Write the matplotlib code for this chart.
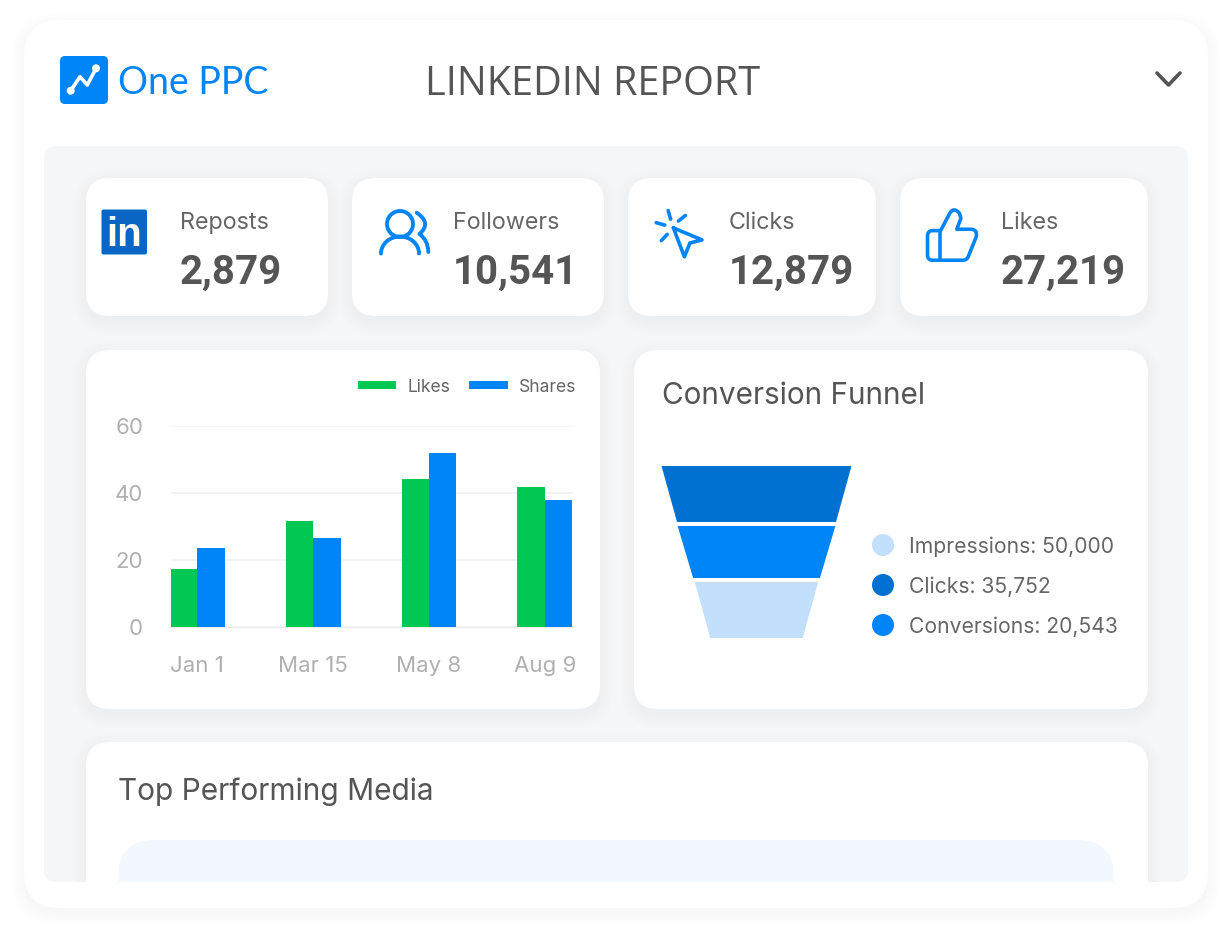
import matplotlib
matplotlib.use("Agg")
import matplotlib.pyplot as plt
from matplotlib.patches import Circle, FancyBboxPatch, PathPatch, Polygon, Rectangle, Arc
from matplotlib.path import Path

# chart values
dates = ["Jan 1", "Mar 15", "May 8", "Aug 9"]
likes = [17.2, 31.7, 44.0, 41.6]
shares = [23.4, 26.4, 52.0, 37.8]
y_ticks = [0, 20, 40, 60]

kpi_names = ["Reposts", "Followers", "Clicks", "Likes"]
kpi_values = ["2,879", "10,541", "12,879", "27,219"]

funnel_names = ["Impressions", "Clicks", "Conversions"]
funnel_values = [50000, 35752, 20543]

BLUE = "#0085f9"
DARK_BLUE = "#0071d1"
LIGHT_BLUE = "#c2e0fc"
GREEN = "#00c853"
TEXT = "#555555"
SOFT_TEXT = "#666666"
TICK = "#b0b0b0"
BODY_FONT = "Inter"


def rounded(ax, x0, y0, x1, y1, r, color, **kw):
    box = FancyBboxPatch((x0 + r, y0 + r), x1 - x0 - 2 * r, y1 - y0 - 2 * r,
                         boxstyle=f"round,pad={r},rounding_size={r}",
                         fc=color, ec="none", **kw)
    ax.add_patch(box)
    return box


def card(ax, x0, y0, x1, y1, r=24, clip=None):
    # soft drop shadow built from a few stacked boxes
    for grow in range(1, 14, 2):
        s = rounded(ax, x0 - grow, y0 - grow + 5, x1 + grow, y1 + grow + 5,
                    r + grow, "#20304a", alpha=0.005)
        if clip is not None:
            s.set_clip_path(clip)
    box = rounded(ax, x0, y0, x1, y1, r, "white")
    if clip is not None:
        box.set_clip_path(clip)
    return box


def stroke(ax, pts, color=BLUE, lw=2.6):
    xs, ys = zip(*pts)
    ax.plot(xs, ys, color=color, lw=lw, solid_capstyle="round",
            solid_joinstyle="round")


def curve(ax, verts, codes, lw=2.6):
    patch = PathPatch(Path(verts, codes), fc="none", ec=BLUE, lw=lw,
                      capstyle="round", joinstyle="round")
    ax.add_patch(patch)


def draw_logo(ax):
    rounded(ax, 60, 56, 108, 104, 5, BLUE)
    pts = [(70.7, 90.7), (80, 76.7), (87.3, 85), (96, 68.3)]
    stroke(ax, pts, "white", 2.6)
    ax.add_patch(Circle(pts[0], 4, fc="white", ec="none"))
    ax.add_patch(Circle(pts[-1], 4, fc="white", ec="none"))


def draw_linkedin(ax):
    rounded(ax, 101.5, 209.5, 147, 254.5, 2, "#0a66c2")
    ax.text(124.3, 234.5, "in", color="white", fontsize=29, fontweight="bold",
            family="Liberation Sans", ha="center", va="center")


def draw_followers(ax):
    ax.add_patch(Circle((400, 224), 13, fc="none", ec=BLUE, lw=2.8))
    ax.add_patch(Arc((400, 253.5), 38, 34, theta1=180, theta2=360, ec=BLUE, lw=2.8,
                     capstyle="round"))
    M, C = Path.MOVETO, Path.CURVE3
    curve(ax, [(416.7, 212.7), (432, 223), (419.5, 234), (428, 240), (428.3, 252)],
          [M, C, C, C, C], lw=2.8)


def draw_cursor(ax):
    arrow = [(673.4, 227.9), (702, 239.9), (689.9, 243), (684.4, 256.8), (673.4, 227.9)]
    stroke(ax, arrow)
    for ray in [[(668.2, 210.6), (670.6, 219.2)], [(685.4, 215.5), (678.5, 221)],
                [(656.2, 222.7), (664.8, 225.1)], [(661.3, 240.6), (667.2, 234.4)]]:
        stroke(ax, ray)


def draw_thumb(ax):
    M, L, C = Path.MOVETO, Path.LINETO, Path.CURVE3
    outline = [(930, 178), (958, 125), (970, 106), (986, 126), (990, 140), (978, 172),
               (1018, 172), (1040, 172), (1034, 195), (1012, 250), (1008, 262), (995, 262),
               (908, 262), (893, 262), (893, 247), (893, 192), (893, 176), (908, 176),
               (930, 176)]
    codes = [M, L, C, C, L, L, L, C, C, L, C, C, L, C, C, L, C, C, L]
    curve(ax, [(x / 2.904 + 620, y / 2.904 + 170) for x, y in outline], codes)
    stroke(ax, [(930 / 2.904 + 620, 178 / 2.904 + 170), (930 / 2.904 + 620, 262 / 2.904 + 170)])


def draw_bars(fig, canvas):
    # pixel box of the plot area: x 171-573, y 425.7-627
    ax = fig.add_axes([171 / 1232, 1 - 627 / 936, 402 / 1232, 201.3 / 936])
    ax.patch.set_alpha(0)
    width = 27.4 / 115.8
    pos = list(range(len(dates)))
    ax.bar([p - width / 2 for p in pos], likes, width, color=GREEN, label="Likes", zorder=3)
    ax.bar([p + width / 2 for p in pos], shares, width, color=BLUE, label="Shares", zorder=3)
    ax.set_xlim(-26.3 / 115.8, (573 - 197.3) / 115.8)
    ax.set_ylim(0, 60)
    ax.set_yticks(y_ticks)
    ax.set_xticks(pos)
    ax.set_xticklabels(dates)
    ax.tick_params(length=0, labelcolor=TICK, labelsize=16)
    ax.tick_params(axis="x", pad=21)
    ax.tick_params(axis="y", pad=20)
    ax.grid(axis="y", color="#f1f1f1", lw=1.2, zorder=0)
    for side in ["top", "left", "right"]:
        ax.spines[side].set_visible(False)
    ax.spines["bottom"].set_color("#eeeeee")
    for lab in ax.get_xticklabels() + ax.get_yticklabels():
        lab.set_family(BODY_FONT)
    ax.legend(loc="center right", bbox_to_anchor=(576, 387), bbox_transform=canvas.transData,
              ncol=2, frameon=False, labelcolor=SOFT_TEXT, borderpad=0,
              borderaxespad=0, handlelength=2.2, handleheight=0.34, handletextpad=0.62,
              columnspacing=1.1, prop={"family": BODY_FONT, "size": 12.6})


def draw_funnel(ax):
    center = 756.5
    tops = [466, 526, 582]
    bottoms = [522, 578, 638]
    colors = [DARK_BLUE, BLUE, LIGHT_BLUE]
    for value, top, bottom, color in zip(funnel_values, tops, bottoms, colors):
        # tier width in pixels grows linearly with its value
        w = 77 + 0.00226 * value
        ax.add_patch(Polygon([(center - w / 2, top), (center + w / 2, top),
                              (center + w / 2 - 15.5, bottom), (center - w / 2 + 15.5, bottom)],
                             fc=color, ec="none"))
    dots = [LIGHT_BLUE, DARK_BLUE, BLUE]
    for i, (name, value) in enumerate(zip(funnel_names, funnel_values)):
        y = 545 + 40 * i
        ax.add_patch(Circle((883, y), 11, fc=dots[i], ec="none"))
        ax.text(909, y + 1.5, f"{name}: {value:,}", color=SOFT_TEXT, fontsize=15.2,
                family=BODY_FONT, va="center")


def main():
    fig = plt.figure(figsize=(12.32, 9.36), dpi=100, facecolor="white")
    canvas = fig.add_axes([0, 0, 1, 1])
    canvas.set_xlim(0, 1232)
    canvas.set_ylim(936, 0)
    canvas.axis("off")

    # outer frame and grey panel
    card(canvas, 24, 20, 1208, 908, r=36)
    rounded(canvas, 44, 146, 1188, 882, 12, "#f5f6f8")

    draw_logo(canvas)
    canvas.text(118, 80, "One PPC", color=BLUE, fontsize=27, family="Lato", va="center_baseline")
    canvas.text(425, 80, "LINKEDIN REPORT", color=TEXT, fontsize=28.5, family="Open Sans", va="center_baseline")
    stroke(canvas, [(1157, 73), (1168.5, 85), (1180, 73)], TEXT, 2.6)

    # KPI cards
    card_edges = [(86, 328), (352, 604), (628, 876), (900, 1148)]
    text_x = [180, 453, 729, 1001]
    for (x0, x1), tx, name, value in zip(card_edges, text_x, kpi_names, kpi_values):
        card(canvas, x0, 178, x1, 316)
        canvas.text(tx, 223, name, color=SOFT_TEXT, fontsize=16.8, family=BODY_FONT, va="center")
        canvas.text(tx, 273, value, color=TEXT, fontsize=29, fontweight="bold",
                    family="Roboto", va="center")
    draw_linkedin(canvas)
    draw_followers(canvas)
    draw_cursor(canvas)
    draw_thumb(canvas)

    # chart cards
    card(canvas, 86, 350, 600, 709)
    card(canvas, 634, 350, 1148, 709)
    canvas.text(662, 396, "Conversion Funnel", color=TEXT, fontsize=21.4, family=BODY_FONT, va="center")
    draw_funnel(canvas)
    draw_bars(fig, canvas)

    # bottom card runs off the bottom of the grey panel
    clip = Rectangle((0, 0), 1232, 882, transform=canvas.transData)
    card(canvas, 86, 742, 1148, 960, clip=clip)
    inner = rounded(canvas, 118, 840, 1114, 960, 36, "#f3f8fe")
    inner.set_clip_path(clip)
    canvas.text(118, 792, "Top Performing Media", color=TEXT, fontsize=21.5, family=BODY_FONT, va="center")

    fig.savefig("out.png", dpi=100, facecolor="white")


if __name__ == "__main__":
    main()
